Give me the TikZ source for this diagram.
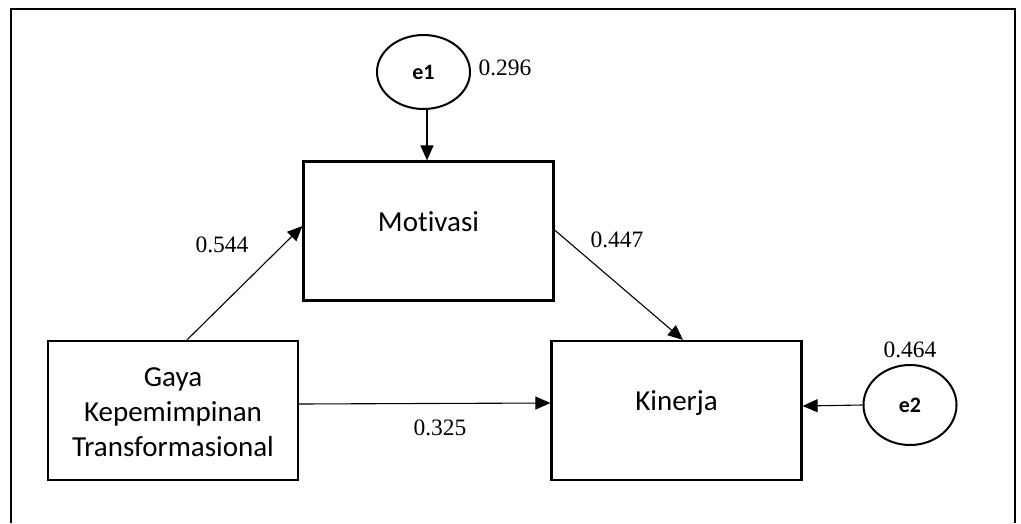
\documentclass[tikz,border=0pt]{standalone}
\usepackage{fontspec}
\setmainfont{Liberation Serif}
\newfontfamily\boxfont[RawFeature={-liga}]{Carlito}
\usetikzlibrary{arrows.meta,shapes.geometric}
\tikzset{
  varbox/.style={draw,line width=2.2pt,minimum width=250pt,minimum height=139pt,inner sep=0pt},
  errvar/.style={draw,ellipse,line width=2pt,minimum width=93pt,minimum height=74pt,inner sep=0pt,font=\boxfont\bfseries\fontsize{22}{26}\selectfont},
  boxtext/.style={font=\boxfont\fontsize{29}{35}\selectfont,align=center,inner sep=0pt},
  coef/.style={font=\fontsize{23.5}{26}\selectfont,inner sep=0pt},
  path/.style={line width=1.1pt,-{Triangle[length=15pt,width=13pt]}}
}
\begin{document}
\begin{tikzpicture}[x=1pt,y=-1pt]
\useasboundingbox (0,0) rectangle (1021,523);
% outer frame, open at the bottom
\draw[line width=2.6pt] (11,523) -- (11,9) -- (1015,9) -- (1015,523);

% latent variables
\node[varbox] (mot) at (428.5,231) {};
\node[varbox] (kin) at (676.5,410.5) {};
\node[varbox] (gaya) at (173,410.5) {};
\node[boxtext] (mot-t) at (428.5,222) {Motivasi};
\node[boxtext] (kin-t) at (676.5,403) {Kinerja};
\node[boxtext] (gaya-t) at (173,412) {Gaya\\Kepemimpinan\\Transformasional};

% error terms
\node[errvar] (e1) at (423.5,72) {e1};
\node[errvar,minimum height=80pt] (e2) at (910,405) {e2};

% paths
\draw[path] ([xshift=3.5pt]e1.south) -- ([xshift=3.5pt]e1.south |- mot.north);
\draw[path] (e2.west) -- ([yshift=4.5pt]kin.east);
\draw[path] ([xshift=14pt]gaya.north) -- ([yshift=5pt]mot.west);
\draw[path] ([yshift=1pt]mot.east) -- ([xshift=6.5pt]kin.north);
\draw[path] ([yshift=6.5pt]gaya.east) -- ([yshift=7.5pt]kin.west);

% coefficients
\node[coef] (c-e1) at (505,68) {0.296};
\node[coef] (c-e2) at (910,350) {0.464};
\node[coef] (c-gm) at (222,245) {0.544};
\node[coef] (c-mk) at (617,240) {0.447};
\node[coef] (c-gk) at (440,428) {0.325};
\end{tikzpicture}
\end{document}
